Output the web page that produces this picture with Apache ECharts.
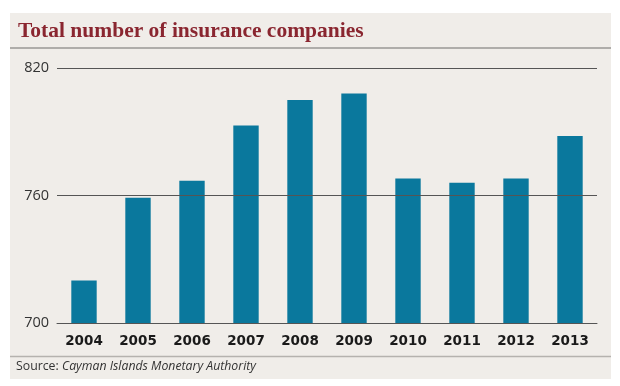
<!DOCTYPE html>
<html><head><meta charset="utf-8">
<script src="https://cdn.jsdelivr.net/npm/echarts@6/dist/echarts.min.js"></script>
<style>html,body{margin:0;padding:0;background:#fff}#c{width:620px;height:386px}</style>
</head><body><div id="c"></div>
<script>
const years = ['2004','2005','2006','2007','2008','2009','2010','2011','2012','2013'];
const companies = [720, 759, 767, 793, 805, 808, 768, 766, 768, 788];
const yTicks = [700, 760, 820];
const titleText = 'Total number of insurance companies';
const sourceLabel = 'Source: ';
const sourceName = 'Cayman Islands Monetary Authority';

const chart = echarts.init(document.getElementById('c'), null, {renderer:'canvas'});
chart.setOption({
  animation: false,
  backgroundColor: '#ffffff',
  graphic: [
    {type:'rect', z:-10, shape:{x:10,y:13,width:601,height:366}, style:{fill:'#f0ede9'}},
    {type:'line', shape:{x1:10,y1:48,x2:611,y2:48}, style:{stroke:'#9a9794',lineWidth:1.5}},
    {type:'line', shape:{x1:10,y1:356.5,x2:611,y2:356.5}, style:{stroke:'#b5b2ae',lineWidth:1.5}},
    {type:'text', left:16, top:360, style:{
      text:'{a|'+sourceLabel+'}{b|'+sourceName+'}',
      rich:{a:{fontFamily:'Open Sans',fontSize:12.3,fill:'#333'},b:{fontFamily:'Open Sans',fontSize:12.3,fontStyle:'italic',fill:'#333'}}
    }}
  ],
  title: {
    text: titleText, left: 13, top: 15,
    textStyle: {fontFamily:'Liberation Serif', fontWeight:'bold', fontSize:21.5, color:'#8a2630'}
  },
  grid: {left:57, right:23, top:68, bottom:63},
  xAxis: {
    type:'category', data: years,
    axisLine:{show:true, lineStyle:{color:'#555', width:1}},
    axisTick:{show:false},
    axisLabel:{fontFamily:'DejaVu Sans', fontWeight:'bold', fontSize:13.5, color:'#1a1a1a', margin:11}
  },
  yAxis: {
    type:'value', min:700, max:820, interval:60,
    axisLine:{show:false}, axisTick:{show:false},
    splitLine:{show:false},
    axisLabel:{fontFamily:'Open Sans', fontSize:14.5, color:'#333', margin:8,
      formatter: v => yTicks.includes(v) ? String(v) : ''}
  },
  series: [{
    type:'bar', data: companies, barWidth:'47%',
    itemStyle:{color:'#0a789d'},
    markLine: {
      silent:true, symbol:'none', label:{show:false},
      lineStyle:{color:'#555', width:1, type:'solid'},
      data: yTicks.slice(1).map(v => ({yAxis:v}))
    },
    z: 2
  }]
});
</script></body></html>
